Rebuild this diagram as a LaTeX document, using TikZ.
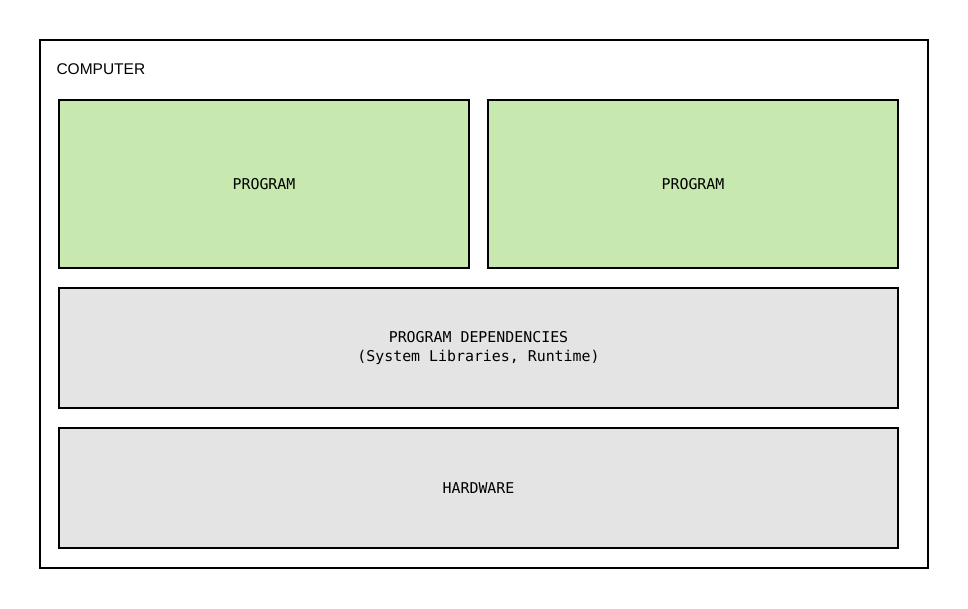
\documentclass[tikz,border=0pt]{standalone}
\usepackage{fontspec}
\setmainfont{Liberation Sans}
\setmonofont{DejaVu Sans Mono}
\usetikzlibrary{shapes,positioning}
\definecolor{progfill}{HTML}{C7E8AF}
\definecolor{depfill}{HTML}{E4E4E4}
\tikzstyle{layer} = [rectangle, draw, line width=1.6pt, text centered, font=\ttfamily\fontsize{14.9}{19}\selectfont, align=center]
\tikzstyle{prog} = [layer, fill=progfill, minimum width=410pt, minimum height=168pt]
\tikzstyle{deps} = [layer, fill=depfill, minimum width=839pt, minimum height=120pt]
\begin{document}
\begin{tikzpicture}[x=1pt,y=-1pt]
  \useasboundingbox (0,0) rectangle (968,608);
      \node [rectangle, draw, line width=1.6pt, minimum width=888pt, minimum height=528pt] (computer) at (484,304) {};
      \node [anchor=west, font=\fontsize{15.5}{18}\selectfont] (title) at (53,69) {COMPUTER};

      \node [prog] (prog1) at (264,184) {PROGRAM};
      \node [prog] (prog2) at (693,184) {PROGRAM};
      \node [deps] (depend) at (478.5,348) {PROGRAM DEPENDENCIES\\(System Libraries, Runtime)};
      \node [deps] (hardware) at (478.5,488) {HARDWARE};
\end{tikzpicture}
\end{document}
